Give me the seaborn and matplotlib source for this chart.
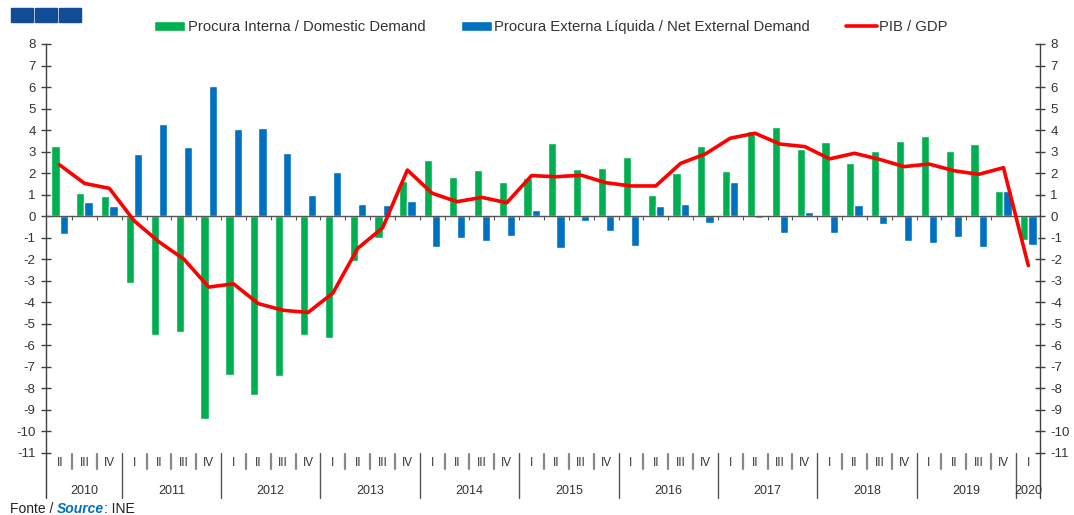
import numpy as np
import pandas as pd
import matplotlib
matplotlib.use("Agg")
import matplotlib.pyplot as plt
import seaborn as sns
from matplotlib.patches import Patch, Rectangle
from matplotlib.lines import Line2D

# ---- data (contributions to GDP growth, p.p.) ----
years = ["2010"] * 3 + [str(y) for y in range(2011, 2020) for _ in range(4)] + ["2020"]
quarters = ["II", "III", "IV"] + ["I", "II", "III", "IV"] * 9 + ["I"]

domestic = [3.25, 1.05, 0.93,
            -3.1, -5.55, -5.4, -9.45,
            -7.4, -8.3, -7.45, -5.55,
            -5.65, -2.1, -1.0, 1.62,
            2.6, 1.8, 2.15, 1.6,
            1.75, 3.38, 2.17, 2.25,
            2.75, 0.97, 1.98, 3.26,
            2.1, 3.95, 4.13, 3.12,
            3.45, 2.48, 3.04, 3.48,
            3.72, 3.03, 3.35, 1.15,
            -1.1]
external = [-0.82, 0.65, 0.47,
            2.9, 4.3, 3.21, 6.04,
            4.04, 4.08, 2.95, 0.98,
            2.07, 0.56, 0.52, 0.7,
            -1.43, -1.0, -1.15, -0.92,
            0.3, -1.5, -0.25, -0.7,
            -1.38, 0.48, 0.56, -0.3,
            1.57, -0.08, -0.78, 0.2,
            -0.78, 0.53, -0.37, -1.18,
            -1.27, -0.95, -1.46, 1.15,
            -1.35]
gdp = [2.38, 1.52, 1.29,
       -0.22, -1.2, -2.0, -3.3,
       -3.15, -4.07, -4.38, -4.48,
       -3.58, -1.5, -0.55, 2.14,
       1.06, 0.67, 0.87, 0.62,
       1.88, 1.83, 1.9, 1.55,
       1.4, 1.4, 2.45, 2.89,
       3.62, 3.85, 3.35, 3.23,
       2.66, 2.92, 2.64, 2.3,
       2.42, 2.11, 1.94, 2.25,
       -2.3]

lbl_dom = "Procura Interna / Domestic Demand"
lbl_ext = "Procura Externa Líquida / Net External Demand"
lbl_gdp = "PIB / GDP"

GREEN = "#00B050"
BLUE = "#0070C0"
RED = "#FF0000"
AXC = "#404040"
TXT = "#333333"

periods = [f"{y} {q}" for y, q in zip(years, quarters)]
df = pd.DataFrame({
    "period": periods * 2,
    "serie": [lbl_dom] * len(periods) + [lbl_ext] * len(periods),
    "value": domestic + external,
})

sns.set_style("white")
plt.rcParams["font.family"] = ["Liberation Sans", "DejaVu Sans"]
plt.rcParams["axes.unicode_minus"] = False

W, H = 1074, 515
fig = plt.figure(figsize=(W / 100, H / 100), dpi=100)
ax = fig.add_axes([46 / W, 1 - 452.7 / H, (1040 - 46) / W, (452.7 - 44) / H])

sns.barplot(data=df, x="period", y="value", hue="serie", order=periods,
            palette=[GREEN, BLUE], width=0.66, saturation=1, errorbar=None,
            legend=False, ax=ax, zorder=2)
ax.axhline(0, color="#555555", lw=1, zorder=3)
ax.vlines(np.arange(0.5, len(periods) - 1), -0.18, 0, color="#555555", lw=0.8, zorder=3)
sns.lineplot(x=np.arange(len(gdp)), y=gdp, color=RED, lw=2.6, ax=ax, zorder=4)

ax.set_xlim(-0.55, len(periods) - 0.53)
ax.set_ylim(-11, 8)
ax.set_yticks(range(-11, 9))
ax.set_xlabel("")
ax.set_ylabel("")
ax.tick_params(axis="x", bottom=False, labelbottom=False)
ax.tick_params(axis="y", direction="inout", length=7, width=1, color=AXC,
               labelcolor=TXT, labelsize=9.5, pad=4,
               left=True, right=True, labelleft=True, labelright=True)
for s in ["top", "bottom"]:
    ax.spines[s].set_visible(False)
for s in ["left", "right"]:
    ax.spines[s].set_color(AXC)
    ax.spines[s].set_linewidth(1)

# category axis below the plot
ytr = ax.get_yaxis_transform()
for xa in [0, 1]:
    ax.plot([xa, xa], [-13.1, -11], transform=ytr, color=AXC, lw=1, clip_on=False)
for i, q in enumerate(quarters):
    ax.text(i, -11.5, q, ha="center", va="center", fontsize=8.5, color=TXT, clip_on=False)
    if i < len(quarters) - 1:
        if years[i + 1] != years[i]:
            ax.plot([i + 0.5, i + 0.5], [-11, -13.1], color="#555555", lw=1, clip_on=False)
        else:
            ax.plot([i + 0.5, i + 0.5], [-11.05, -11.75], color="#888888", lw=1.6, clip_on=False)
for y in dict.fromkeys(years):
    idx = [i for i, v in enumerate(years) if v == y]
    ax.text(np.mean(idx), -12.78, y, ha="center", va="center", fontsize=9, color=TXT, clip_on=False)

# legend
handles = [Patch(facecolor=GREEN), Patch(facecolor=BLUE), Line2D([], [], color=RED, lw=2.6)]
fig.legend(handles, [lbl_dom, lbl_ext, lbl_gdp], loc="center", bbox_to_anchor=(0.513, 1 - 27 / H),
           ncol=3, frameon=False, fontsize=10.7, handlelength=2.1, handleheight=0.65,
           handletextpad=0.15, columnspacing=2.4, labelcolor=TXT)

# blue squares top-left
for x0 in [11, 35, 59]:
    fig.add_artist(Rectangle((x0 / W, 1 - 22 / H), 22 / W, 14 / H,
                             transform=fig.transFigure, color="#124C98"))

# source note
t1 = fig.text(10 / W, 1 - 509 / H, "Fonte / ", fontsize=10, color="#222222", va="center")
fig.canvas.draw()
r = fig.canvas.get_renderer()
bb = t1.get_window_extent(r)
t2 = fig.text(bb.x1 / W, 1 - 509 / H, "Source", fontsize=10, color=BLUE,
              fontweight="bold", fontstyle="italic", va="center")
bb2 = t2.get_window_extent(r)
fig.text(bb2.x1 / W, 1 - 509 / H, ": INE", fontsize=10, color="#222222", va="center")

fig.savefig("out.png", dpi=100)
